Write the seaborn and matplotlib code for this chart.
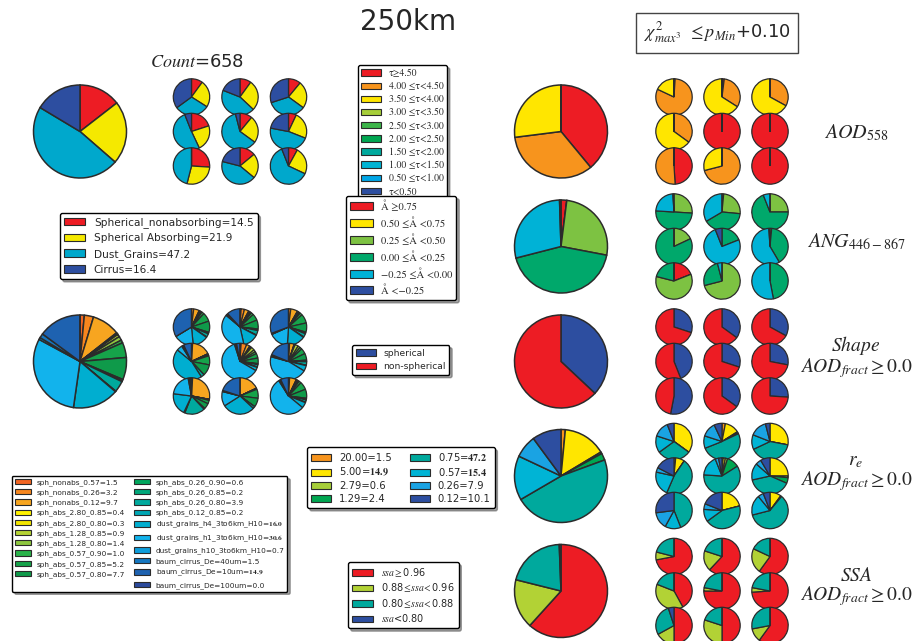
import matplotlib
matplotlib.use("Agg")
import matplotlib.pyplot as plt
from matplotlib.patches import Patch
import seaborn as sns

# ---------------------------------------------------------------- data
# Aerosol type (top-left block)
type_labels = ["Spherical_nonabsorbing", "Spherical Absorbing", "Dust_Grains", "Cirrus"]
type_total = [14.5, 21.9, 47.2, 16.4]
type_cells = [
    [10, 24, 31, 35], [10, 27, 44, 19], [11, 24, 35, 30],
    [20, 23, 51, 6], [11, 24, 61, 4], [7, 24, 47, 22],
    [26, 28, 46, 0], [14, 22, 43, 21], [8, 24, 62, 6],
]

# Detailed aerosol model (middle-left block)
model_labels = [
    "sph_nonabs_0.57", "sph_nonabs_0.26", "sph_nonabs_0.12",
    "sph_abs_2.80_0.85", "sph_abs_2.80_0.80", "sph_abs_1.28_0.85",
    "sph_abs_1.28_0.80", "sph_abs_0.57_0.90", "sph_abs_0.57_0.85",
    "sph_abs_0.57_0.80", "sph_abs_0.26_0.90", "sph_abs_0.26_0.85",
    "sph_abs_0.26_0.80", "sph_abs_0.12_0.85", "dust_grains_h4_3to6km_H10",
    "dust_grains_h1_3to6km_H10", "dust_grains_h10_3to6km_H10",
    "baum_cirrus_De=40um", "baum_cirrus_De=10um", "baum_cirrus_De=100um",
]
model_total = [1.5, 3.2, 9.7, 0.4, 0.3, 0.9, 1.4, 1.0, 5.2, 7.7,
               0.6, 0.2, 3.9, 0.2, 16.0, 30.6, 0.7, 1.5, 14.9, 0.0]
model_bold = [False] * 14 + [True, True, False, False, True, False]
model_cells = [
    [0, 2, 5, .5, .5, 1, 1, 2, 8, 10, 1, .5, 3, .5, 14, 18, 0, 0, 34, 0],
    [1, 3, 4, .5, .5, 1, 1, 2, 6, 8, 1, .5, 4, .5, 14, 40, 1, 1, 12, 0],
    [0, 2, 6, .5, .5, 1, 1, 2, 8, 8, 1, .5, 3, .5, 16, 17, 0, 1, 30, 0],
    [0, 1, 17, 0, 0, .5, .5, 1, 8, 10, 0, 0, 3, 0, 45, 5, 1, 1, 7, 0],
    [1, 5, 3, 1, 1, 3, 2, 2, 4, 5, .5, .5, 2, .5, 3, 62, 1, 1, 3, 0],
    [0, 1, 4, .5, .5, 3, 2, 2, 5, 6, 1, .5, 3, .5, 5, 46, 1, 1, 19, 0],
    [0, 1, 27, 0, 0, 0, 0, 1, 3, 5, 1, 0, 18, 1, 20, 20, 1, 1, 1, 0],
    [0, 0, 18, 0, 0, 0, 0, 1, 8, 8, 0, 0, 2, 0, 29, 13, 0, 1, 20, 0],
    [0, 1, 6, .5, .5, 1, 1, 2, 7, 8, 1, .5, 2, .5, 5, 55, 1, 1, 7, 0],
]

# AOD 558 classes
tau_labels = ["τ≥4.50", "4.00 ≤τ<4.50", "3.50 ≤τ<4.00", "3.00 ≤τ<3.50",
              "2.50 ≤τ<3.00", "2.00 ≤τ<2.50", "1.50 ≤τ<2.00", "1.00 ≤τ<1.50",
              "0.50 ≤τ<1.00", "τ<0.50"]
tau_total = [39, 34, 27, 0, 0, 0, 0, 0, 0, 0]
tau_cells = [
    [1, 81, 18], [2, 32, 66], [0, 33, 67],
    [0, 35, 65], [100, 0, 0], [100, 0, 0],
    [49, 51, 0], [0, 71, 29], [100, 0, 0],
]

# Angstrom exponent 446-867
ang_labels = ["Å ≥0.75", "0.50 ≤Å <0.75", "0.25 ≤Å <0.50", "0.00 ≤Å <0.25",
              "−0.25 ≤Å <0.00", "Å <−0.25"]
ang_total = [2, 0, 26, 43, 28.5, 0.5]
ang_cells = [
    [0, 0, 26, 50, 23, 1], [0, 1.5, 25, 40, 33.5, 0], [0, 0, 25, 69, 6, 0],
    [0, 0, 18, 82, 0, 0], [0, 0, 0, 19, 75, 6], [0, 0, 1.5, 40, 57.5, 1],
    [19, 0, 60, 21, 0, 0], [0, 0, 71, 25, 4, 0], [0, 0, 0, 47, 53, 0],
]

# Particle shape
shape_labels = ["spherical", "non-spherical"]
shape_total = [37, 63]
shape_cells = [[30, 70], [35, 65], [33, 67], [44, 56], [30, 70],
               [28, 72], [53, 47], [35, 65], [26, 74]]

# Effective radius
re_labels = ["20.00", "5.00", "2.79", "1.29", "0.75", "0.57", "0.26", "0.12"]
re_total = [1.5, 14.9, 0.6, 2.4, 47.2, 15.4, 7.9, 10.1]
re_bold = [False, True, False, False, True, True, False, False]
re_cells = [
    [0, 35, 0, 0, 30, 15, 14, 6], [3, 13, 1, 1, 51, 11, 13, 7],
    [0, 28, 0, 0, 40, 13, 15, 4], [1.5, 8, 0, 0, 47, 22, 4, 17.5],
    [1, 2, 2, 11, 60, 18, 3, 3], [0, 25, 1.5, 5, 40, 15, 5, 8.5],
    [0, 0, 0, 0, 44, 14, 15, 27], [0, 21, 0, 0, 44, 11, 5, 19],
    [0, 10, 1, 0, 60, 18, 5, 6],
]

# Single scattering albedo
ssa_labels = [r"$ssa\geq$0.96", r"0.88$\leq\!ssa\!<$0.96", r"0.80$\leq\!ssa\!<$0.88", r"$ssa$<0.80"]
ssa_total = [61.7, 17.2, 20.5, 0.6]
ssa_cells = [[72, 7, 21, 0], [62, 18, 20, 0], [60, 22, 18, 0], [42, 39, 19, 0],
             [75, 3, 22, 0], [74, 4, 22, 0], [50, 17, 28, 5], [50, 30, 20, 0],
             [60, 12, 28, 0]]

count_total = 658

# ---------------------------------------------------------------- colours
type_colors = sns.color_palette(["#ed1c24", "#f5e900", "#00a8cc", "#2d4ea0"])
model_colors = sns.color_palette([
    "#f26522", "#f7861e", "#f7a520", "#fff200", "#f2e600", "#b5d334", "#8dc63f",
    "#2ab34a", "#16a34a", "#0f9a4a", "#00a65d", "#00a77a", "#00a99d", "#00a7b5",
    "#00aed0", "#12b3ec", "#0d9ddb", "#1577c0", "#1e62b0", "#2b4a9c"])
tau_colors = sns.color_palette(["#ed1c24", "#f7941d", "#ffe600", "#a6ce39", "#3cb54a",
                                "#00a651", "#00a99d", "#00b4d5", "#00a6e6", "#2d4ea0"])
ang_colors = sns.color_palette(["#ed1c24", "#ffe600", "#7dc242", "#00a86b", "#00b2d6", "#2d4ea0"])
shape_colors = sns.color_palette(["#2d4ea0", "#ed1c24"])
re_colors = sns.color_palette(["#f7941d", "#ffe600", "#a6ce39", "#00a651",
                               "#00a99d", "#00b4d5", "#1aa3e3", "#2d4ea0"])
ssa_colors = sns.color_palette(["#ed1c24", "#b2d235", "#00a99d", "#2d4ea0"])

# ---------------------------------------------------------------- style
sns.set_theme(style="white")
plt.rcParams["font.family"] = ["DejaVu Sans"]
plt.rcParams["mathtext.fontset"] = "stix"

W, H = 914, 641
fig = plt.figure(figsize=(W / 100, H / 100), dpi=100)
fig.patch.set_facecolor("white")

EDGE = "#2b2b2b"


def pie_at(cx, cy, r, values, colors, lw=1.0):
    m = 1.06
    ax = fig.add_axes([(cx - m * r) / W, 1 - (cy + m * r) / H, 2 * m * r / W, 2 * m * r / H])
    vals = list(values) + [0] * (len(colors) - len(values))
    ax.pie(vals, colors=colors, startangle=90, counterclock=False, radius=1,
           wedgeprops=dict(edgecolor=EDGE, linewidth=lw))
    ax.set_xlim(-m, m)
    ax.set_ylim(-m, m)
    ax.set_axis_off()
    return ax


def pie_block(big_x, cols, cy, total, cells, colors):
    pie_at(big_x, cy, 46.5, total, colors, lw=1.1)
    offs = [-34.5, 0, 34.5]
    for i, cell in enumerate(cells):
        r, c = divmod(i, 3)
        pie_at(cols[c], cy + offs[r], 18.2, cell, colors, lw=0.9)


LEFT_BIG, RIGHT_BIG = 80, 561
LEFT_COLS = [191.5, 240, 288.5]
RIGHT_COLS = [674, 722, 770]
ROWS = [131.5, 246.5, 361.5, 476, 591]

pie_block(LEFT_BIG, LEFT_COLS, ROWS[0], type_total, type_cells, type_colors)
pie_block(LEFT_BIG, LEFT_COLS, ROWS[2], model_total, model_cells, model_colors)
pie_block(RIGHT_BIG, RIGHT_COLS, ROWS[0], tau_total, tau_cells, tau_colors)
pie_block(RIGHT_BIG, RIGHT_COLS, ROWS[1], ang_total, ang_cells, ang_colors)
pie_block(RIGHT_BIG, RIGHT_COLS, ROWS[2], shape_total, shape_cells, shape_colors)
pie_block(RIGHT_BIG, RIGHT_COLS, ROWS[3], re_total, re_cells, re_colors)
pie_block(RIGHT_BIG, RIGHT_COLS, ROWS[4], ssa_total, ssa_cells, ssa_colors)


# ---------------------------------------------------------------- legends
def legend_at(labels, colors, x, y, fontsize, ncol=1, spacing=0.45,
              hlen=2.0, hh=0.7, colsp=1.5, pad=0.4, htp=0.8, family=None):
    handles = [Patch(facecolor=c, edgecolor=EDGE, linewidth=0.8, label=l)
               for l, c in zip(labels, colors)]
    prop = {"size": fontsize}
    if family:
        prop["family"] = family
    leg = fig.legend(handles=handles, loc="upper left",
                     bbox_to_anchor=(x / W, 1 - y / H), bbox_transform=fig.transFigure,
                     ncol=ncol, prop=prop, frameon=True, fancybox=True,
                     shadow=True, framealpha=1, borderaxespad=0, borderpad=pad,
                     labelspacing=spacing, handlelength=hlen, handleheight=hh,
                     columnspacing=colsp, handletextpad=htp)
    fr = leg.get_frame()
    fr.set_edgecolor("black")
    fr.set_linewidth(1.0)
    fr.set_facecolor("white")
    return leg


def fmt(v, bold):
    return rf"$\mathbf{{{v:.1f}}}$" if bold else f"{v:.1f}"


legend_at([f"{l}={v:.1f}" for l, v in zip(type_labels, type_total)], type_colors,
          60, 213, 7.6, spacing=0.5)
legend_at(tau_labels, tau_colors, 358, 65, 7.0, spacing=0.36, hlen=2.0, hh=0.65,
          family="STIXGeneral", pad=0.35)
legend_at(ang_labels, ang_colors, 346, 196, 7.6, spacing=0.5, hlen=2.2, hh=0.8,
          family="STIXGeneral", pad=0.4, htp=0.7)
legend_at(shape_labels, shape_colors, 352, 345, 6.6, spacing=0.5, hlen=2.2)
legend_at([f"{l}={fmt(v, b)}" for l, v, b in zip(model_labels, model_total, model_bold)],
          model_colors, 12, 476, 5.3, ncol=2, spacing=0.45, hlen=2.2, colsp=1.1)
legend_at([f"{l}={fmt(v, b)}" for l, v, b in zip(re_labels, re_total, re_bold)],
          re_colors, 307, 447, 7.2, ncol=2, spacing=0.3, hlen=2.0, colsp=1.8)
legend_at(ssa_labels, ssa_colors, 348, 562, 7.0, spacing=0.26, hlen=2.2)

# ---------------------------------------------------------------- texts
fig.text(408 / W, 1 - 22 / H, "250km", ha="center", va="center", fontsize=20)
fig.text(197 / W, 1 - 62 / H, rf"$Count$={count_total}", ha="center", va="center", fontsize=13)
fig.text(717 / W, 1 - 33 / H, r"$\chi^2_{max^3}$ $\leq p_{Min}$+0.10", ha="center",
         va="center", fontsize=13,
         bbox=dict(boxstyle="square,pad=0.4", facecolor="white", edgecolor="#444444", lw=1))

RX = 856
fig.text(RX / W, 1 - 133 / H, r"$AOD_{558}$", ha="center", va="center", fontsize=14.5)
fig.text(RX / W, 1 - 242 / H, r"$ANG_{446-867}$", ha="center", va="center", fontsize=14.5)
for title, yc in [(r"$Shape$", 357), (r"$r_e$", 472), (r"$SSA$", 587)]:
    fig.text(RX / W, 1 - yc / H, title + "\n" + r"$AOD_{fract}\geq0.0$",
             ha="center", va="center", fontsize=14, linespacing=1.0)

fig.savefig("out.png", dpi=100, facecolor="white")
